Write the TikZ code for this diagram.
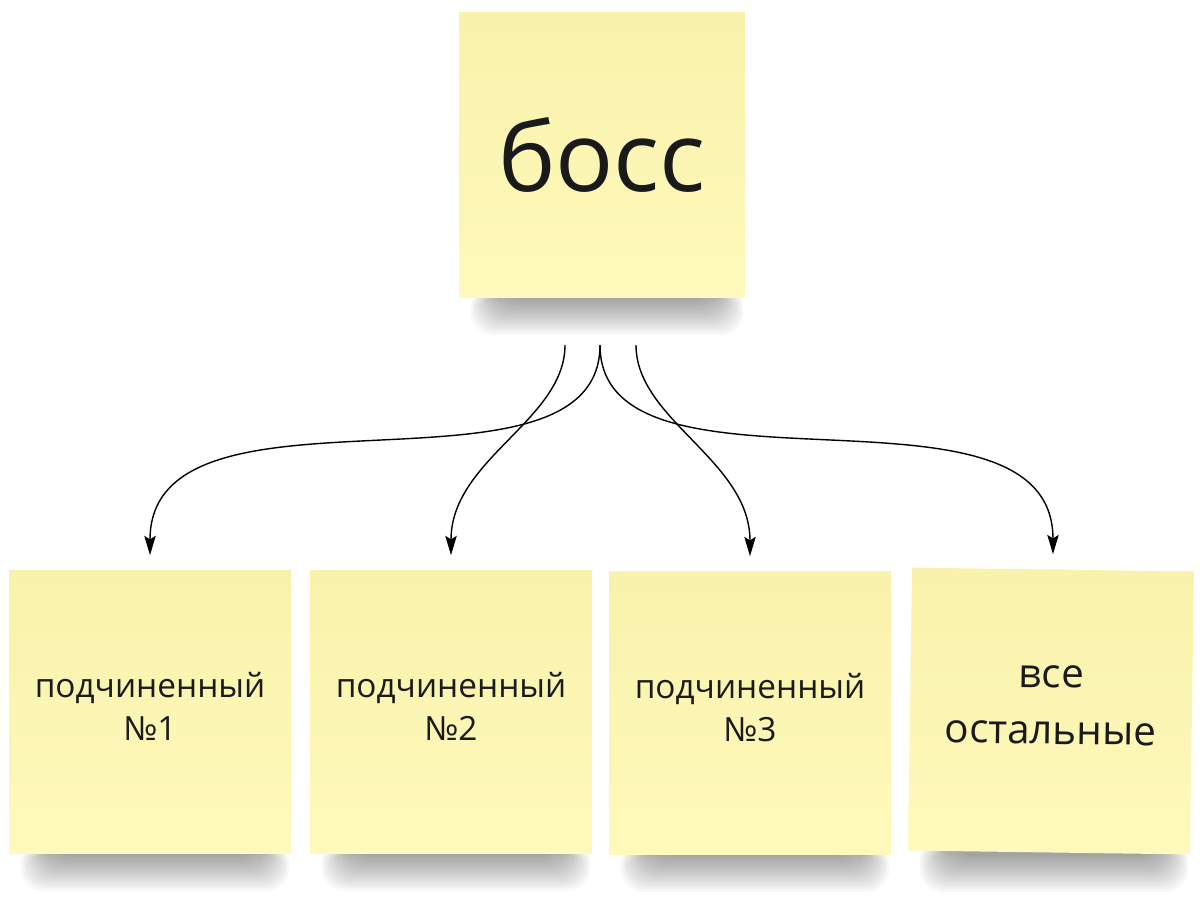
\documentclass[tikz,border=0pt]{standalone}
\usepackage{fontspec}
\setmainfont{Open Sans}
\usetikzlibrary{arrows.meta,backgrounds,calc}
\definecolor{notetop}{RGB}{249,242,172}
\definecolor{notebot}{RGB}{255,249,187}
\definecolor{ink}{RGB}{26,26,26}
\tikzstyle{sticky}=[rectangle, minimum width=5.64cm, minimum height=5.66cm, inner sep=0pt,
  top color=notetop, bottom color=notebot, text=ink, align=center, font=\fontsize{19}{24.5}\selectfont]
\tikzstyle{bigsticky}=[sticky, minimum width=5.72cm, minimum height=5.7cm, font=\fontsize{55}{66}\selectfont]
\tikzstyle{link}=[->, line width=0.8pt]

\begin{document}
\begin{tikzpicture}[x=0.02cm, y=-0.02cm, >={Stealth[length=11pt,width=6.5pt,inset=2pt]}]
\useasboundingbox (0,0) rectangle (1200,900);

\node [bigsticky] (boss) at (602,155) {босс};
\node [sticky] (sub1) at (150,712) {подчиненный\\№1\\[-18pt]};
\node [sticky] (sub2) at (451,712) {подчиненный\\№2\\[-18pt]};
\node [sticky] (sub3) at (750,713) {подчиненный\\№3\\[-18pt]};
\node [sticky, rotate=-0.8, font=\fontsize{23}{32}\selectfont] (rest) at (1051,711) {все\\остальные\\[-25pt]};

% soft shadows under the notes
\begin{scope}[on background layer]
  \foreach \n in {boss,sub1,sub2,sub3,rest}{
    \foreach \k in {0,...,15}
      \fill[black, opacity=0.028, rounded corners=0.45cm]
        ($(\n.south west)+(42-\k*2,-12)$) rectangle ($(\n.south east)+(-32+\k*2,1+\k*2.4)$);
  }
\end{scope}

\coordinate (outL) at (565,345);
\coordinate (outM) at (600,345);
\coordinate (outR) at (636,345);

\draw[link] (outM) .. controls +(0,170) and +(0,-191) .. ([yshift=0.3cm]sub1.north);
\draw[link] (outL) .. controls +(0,75) and +(0,-96) .. ([yshift=0.3cm]sub2.north);
\draw[link] (outR) .. controls +(0,75) and +(0,-96) .. ([yshift=0.3cm]sub3.north);
\draw[link] (outM) .. controls +(0,170) and +(0,-191) .. ([yshift=0.3cm]rest.north);
\end{tikzpicture}
\end{document}
